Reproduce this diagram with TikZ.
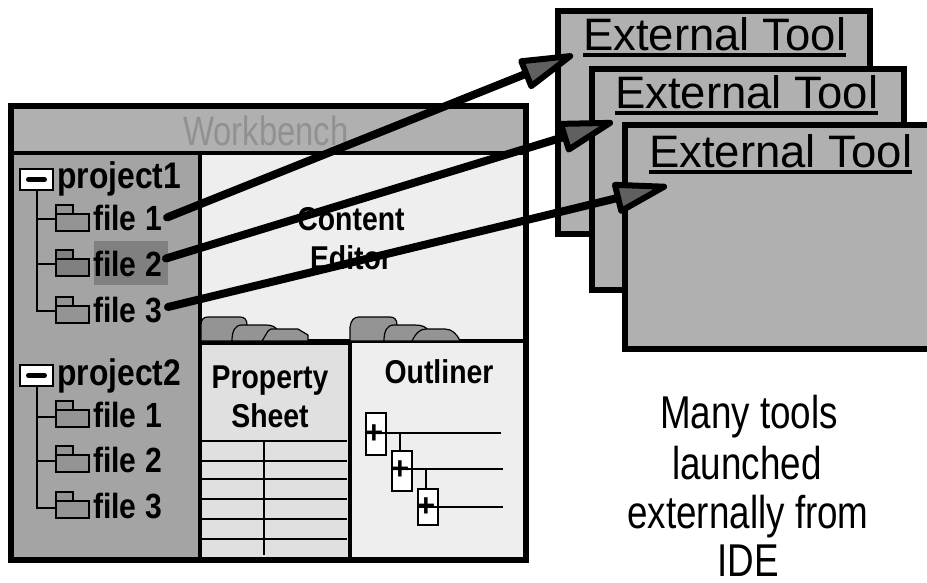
\documentclass[tikz,border=0pt]{standalone}
\usepackage{fontspec}
\setmainfont{Liberation Sans}
\newfontfamily\labelfont[FakeStretch=0.86]{Liberation Sans}
\newfontfamily\thinfont[FakeStretch=0.8]{Liberation Sans}
\usetikzlibrary{positioning}
\usetikzlibrary{arrows.meta}

\definecolor{toolgray}{HTML}{B0B0B0}
\definecolor{treegray}{HTML}{A4A4A4}
\definecolor{panelgray}{HTML}{EEEEEE}
\definecolor{sheetgray}{HTML}{E0E0E0}
\definecolor{foldergray}{HTML}{949494}
\definecolor{darkgray}{HTML}{808080}
\definecolor{headgray}{HTML}{606060}

\begin{document}
\begin{tikzpicture}[%
    x=1pt,
    y=-1pt,
toolbox/.style={rectangle, anchor=north west, outer sep=0, inner sep=0, draw=black, fill=toolgray, line width=5.5pt},
panel/.style={rectangle, anchor=north west, outer sep=0, inner sep=0, draw=black, line width=3.5pt},
minusbox/.style={rectangle, outer sep=0, inner sep=0, draw=black, fill=white, line width=2.4pt, minimum width=33, minimum height=21},
folderbody/.style={rectangle, outer sep=0, inner sep=0, draw=black, fill=foldergray, line width=2pt, minimum width=33, minimum height=17},
foldertab/.style={rectangle, outer sep=0, inner sep=0, draw=black, fill=foldergray, line width=2pt, minimum width=17, minimum height=9},
plusbox/.style={rectangle, outer sep=0, inner sep=0, draw=black, fill=white, line width=2pt, minimum width=20},
projectlabel/.style={anchor=base west, inner sep=0, font=\labelfont\bfseries\fontsize{37}{37}\selectfont},
filelabel/.style={anchor=base west, inner sep=0, font=\labelfont\bfseries\fontsize{35}{35}\selectfont},
paneltitle/.style={align=center, inner sep=0, font=\labelfont\bfseries\fontsize{33}{39}\selectfont},
toollabel/.style={anchor=base west, inner sep=0, font=\fontsize{45.5}{45.5}\selectfont},
notelabel/.style={anchor=base, inner sep=0, font=\thinfont\fontsize{46}{46}\selectfont},
tabshape/.style={draw=black, fill=foldergray, line width=1.2pt, line join=round},
launcharrow/.style={line width=8pt, line cap=round, -{Triangle[length=62pt,width=33pt,line width=6pt,round,fill=headgray]}},
]
\useasboundingbox (0,0) rectangle (927,582);

% External tools
\node[toolbox, minimum width=312, minimum height=223] (tool1) at (558,11) {};
\node[toollabel] (toollabel1) at (583,50) {External Tool};
\draw[line width=3.5pt] ([yshift=-4.5pt]toollabel1.south west) -- ([yshift=-4.5pt]toollabel1.south east);

\node[toolbox, minimum width=312, minimum height=221] (tool2) at (592,69) {};
\node[toollabel] (toollabel2) at (615,108) {External Tool};
\draw[line width=3.5pt] ([yshift=-4.5pt]toollabel2.south west) -- ([yshift=-4.5pt]toollabel2.south east);

\node[toolbox, minimum width=320, minimum height=224] (tool3) at (625,125) {};
\node[toollabel] (toollabel3) at (649,167) {External Tool};
\draw[line width=3.5pt] ([yshift=-4.5pt]toollabel3.south west) -- ([yshift=-4.5pt]toollabel3.south east);

% Workbench panels
\node[panel, fill=toolgray, minimum width=515, minimum height=47] (titlepanel) at (11,106) {};
\node[panel, fill=treegray, minimum width=189, minimum height=407] (treepanel) at (11,153) {};
\node[panel, fill=panelgray, minimum width=326, minimum height=188] (contentpanel) at (200,153) {};
\node[panel, fill=sheetgray, minimum width=150, minimum height=217] (sheetpanel) at (200,343) {};
\node[panel, fill=panelgray, minimum width=176, minimum height=219] (outlinepanel) at (350,341) {};
\node[panel, line width=6pt, minimum width=515, minimum height=454] (workbench) at (11,106) {};

\node[inner sep=0, anchor=base, text=black!43, font=\thinfont\fontsize{41}{41}\selectfont] (workbenchlabel) at (266,145) {Workbench};
\node[paneltitle] (contentlabel) at (351,239) {Content\\Editor};
\node[paneltitle] (sheetlabel) at (270,397) {Property\\Sheet};
\node[paneltitle, anchor=base] (outlinelabel) at (439,383) {Outliner};

% Tabs
\draw[tabshape] (201,341) -- (201,325) .. controls (201,319) and (204,317) .. (208,317) -- (240,317) .. controls (245,317) and (247,320) .. (247,325) -- (247,341) -- cycle;
\draw[tabshape] (232,341) .. controls (232,331) and (235,325) .. (242,325) -- (266,325) .. controls (272,325) and (276,327) .. (278,331) -- (278,341) -- cycle;
\draw[tabshape] (262,341) -- (268,331) -- (271,329) -- (298,329) -- (308,335) -- (308,341) -- cycle;
\draw[tabshape] (350,341) -- (350,327) .. controls (351,320) and (354,317) .. (359,317) -- (390,317) .. controls (394,317) and (397,319) .. (397,325) -- (397,341) -- cycle;
\draw[tabshape] (384,341) .. controls (384,331) and (387,325) .. (394,325) -- (415,325) .. controls (422,325) and (426,327) .. (428,330) -- (428,341) -- cycle;
\draw[tabshape] (412,341) .. controls (416,333) and (420,329) .. (426,329) -- (445,329) .. controls (452,329) and (457,334) .. (460,341) -- cycle;

% Property sheet lines
\coordinate (rowstart1) at (200,441);
\coordinate (rowend1) at (347,441);
\coordinate (rowbottom) at (264,555);
\draw[line width=2pt] (rowstart1) -- (rowend1);
\draw[line width=2pt] (200,461) -- (347,461);
\draw[line width=2pt] (200,479) -- (347,479);
\draw[line width=2pt] (200,499) -- (347,499);
\draw[line width=2pt] (200,519) -- (347,519);
\draw[line width=2pt] (200,539) -- (347,539);
\draw[line width=2pt] (rowbottom |- rowstart1) -- (rowbottom);

% Outliner
\node[plusbox, minimum height=42] (plus1) at (376,434) {};
\node[plusbox, minimum height=40] (plus2) at (402,471) {};
\node[plusbox, minimum height=36] (plus3) at (428,507) {};
\coordinate (outend1) at (501,433);
\coordinate (outend2) at (503,469);
\coordinate (outend3) at (503,507);
\draw[line width=1.8pt] (plus1.west |- outend1) -- (outend1);
\draw[line width=1.8pt] (plus2.west |- outend2) -- (outend2);
\draw[line width=1.8pt] (plus3.west |- outend3) -- (outend3);
\draw[line width=1.8pt] (plus2.north) ++(-2,0) -- ++(0,-18);
\draw[line width=1.8pt] (plus3.north) ++(-2,0) -- ++(0,-20);
\node[inner sep=0, font=\bfseries\fontsize{32}{32}\selectfont] (plussign1) at (374,434) {+};
\node[inner sep=0, font=\bfseries\fontsize{32}{32}\selectfont] (plussign2) at (400,470) {+};
\node[inner sep=0, font=\bfseries\fontsize{32}{32}\selectfont] (plussign3) at (426,507) {+};

% Project 1
\node[minusbox] (minus1) at (36.5,179.5) {};
\draw[line width=5pt, line cap=round] ([xshift=-8pt]minus1.center) -- ([xshift=8pt]minus1.center);
\node[projectlabel] (project1) at (57,188) {project1};

\node[folderbody] (folder11) at (72,222.5) {};
\node[foldertab] (tab11) [above right=0pt and 0pt of folder11.north west] {};
\node[filelabel] (file11) at (93,230) {file 1};

\node[folderbody, fill=darkgray] (folder12) at (72,267.5) {};
\node[foldertab, fill=darkgray] (tab12) [above right=0pt and 0pt of folder12.north west] {};
\node[rectangle, fill=darkgray, anchor=north west, inner sep=0, minimum width=74, minimum height=44] (highlight) at (94,241) {};
\node[filelabel] (file12) at (93,276) {file 2};

\node[folderbody] (folder13) at (72,314) {};
\node[foldertab] (tab13) [above right=0pt and 0pt of folder13.north west] {};
\node[filelabel] (file13) at (93,322.5) {file 3};

\draw[line width=2pt] (minus1.south) |- ([yshift=4pt]folder11.west);
\draw[line width=2pt] (minus1.south) |- ([yshift=4pt]folder12.west);
\draw[line width=2pt] (minus1.south) |- ([yshift=3pt]folder13.west);

% Project 2
\node[minusbox] (minus2) at (36.5,375.5) {};
\draw[line width=5pt, line cap=round] ([xshift=-8pt]minus2.center) -- ([xshift=8pt]minus2.center);
\node[projectlabel] (project2) at (57,385) {project2};

\node[folderbody] (folder21) at (72,418.5) {};
\node[foldertab] (tab21) [above right=0pt and 0pt of folder21.north west] {};
\node[filelabel] (file21) at (93,427) {file 1};

\node[folderbody] (folder22) at (72,463) {};
\node[foldertab] (tab22) [above right=0pt and 0pt of folder22.north west] {};
\node[filelabel] (file22) at (93,472) {file 2};

\node[folderbody] (folder23) at (72,509.5) {};
\node[foldertab] (tab23) [above right=0pt and 0pt of folder23.north west] {};
\node[filelabel] (file23) at (93,518) {file 3};

\draw[line width=2pt] (minus2.south) |- ([yshift=2pt]folder21.west);
\draw[line width=2pt] (minus2.south) |- ([yshift=2pt]folder22.west);
\draw[line width=2pt] (minus2.south) |- ([yshift=2pt]folder23.west);

% Launch arrows
\coordinate (launch1) at (573,55);
\coordinate (launch2) at (613,122);
\coordinate (launch3) at (667,186);
\draw[launcharrow] ([xshift=5pt]file11.east) -- (launch1);
\draw[launcharrow] ([xshift=4pt,yshift=5pt]file12.east) -- (launch2);
\draw[launcharrow] ([xshift=6pt,yshift=3pt]file13.east) -- (launch3);

% Note
\node[notelabel] (note1) at (749,428) {Many tools};
\node[notelabel] (note2) at (747,479) {launched};
\node[notelabel] (note3) at (748,528) {externally from};
\node[notelabel] (note4) at (748,576) {IDE};

\end{tikzpicture}
\end{document}
